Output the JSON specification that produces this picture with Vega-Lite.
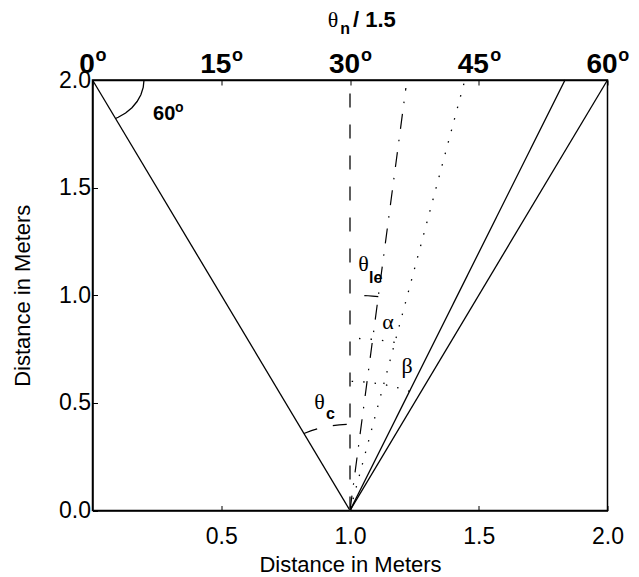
{
  "$schema": "https://vega.github.io/schema/vega-lite/v6.json",
  "width": 515,
  "height": 430.5,
  "autosize": {"type": "none"},
  "padding": {"left": 92.5, "top": 80, "right": 31.5, "bottom": 66.5},
  "background": "white",
  "config": {
    "view": {"stroke": "black", "strokeWidth": 1.5},
    "axis": {
      "domainColor": "black", "domainWidth": 1.5,
      "tickColor": "black", "tickWidth": 1, "tickSize": -5,
      "grid": false,
      "labelFont": "Liberation Sans", "labelColor": "black",
      "titleFont": "Liberation Sans", "titleFontWeight": "normal", "titleColor": "black",
      "labelOverlap": false, "labelFlush": false
    }
  },
  "datasets": {
    "shapes": [
      {"s": "L1", "i": 0, "x": 0, "y": 2}, {"s": "L1", "i": 1, "x": 1, "y": 0},
      {"s": "L2", "i": 0, "x": 1, "y": 0}, {"s": "L2", "i": 1, "x": 2, "y": 2},
      {"s": "L3", "i": 0, "x": 1, "y": 0}, {"s": "L3", "i": 1, "x": 1.835, "y": 2},
      {"s": "V", "i": 0, "x": 1, "y": 0}, {"s": "V", "i": 1, "x": 1, "y": 2},
      {"s": "DD", "i": 0, "x": 1, "y": 0}, {"s": "DD", "i": 1, "x": 1.217, "y": 1.963},
      {"s": "DOT", "i": 0, "x": 1, "y": 0}, {"s": "DOT", "i": 1, "x": 1.445, "y": 1.995},
      {"s": "A60", "i": 0, "x": 0.2, "y": 2.0},
      {"s": "A60", "i": 1, "x": 0.19696, "y": 1.96527},
      {"s": "A60", "i": 2, "x": 0.18794, "y": 1.9316},
      {"s": "A60", "i": 3, "x": 0.17321, "y": 1.9},
      {"s": "A60", "i": 4, "x": 0.15321, "y": 1.87144},
      {"s": "A60", "i": 5, "x": 0.12856, "y": 1.84679},
      {"s": "A60", "i": 6, "x": 0.1, "y": 1.82679},
      {"s": "A60", "i": 7, "x": 0.08944, "y": 1.82111},
      {"s": "AC", "i": 0, "x": 0.82111, "y": 0.35777},
      {"s": "AC", "i": 1, "x": 0.85016, "y": 0.37088},
      {"s": "AC", "i": 2, "x": 0.87639, "y": 0.38042},
      {"s": "AC", "i": 3, "x": 0.90323, "y": 0.38812},
      {"s": "AC", "i": 4, "x": 0.93054, "y": 0.39392},
      {"s": "AC", "i": 5, "x": 0.95819, "y": 0.39781},
      {"s": "AC", "i": 6, "x": 0.98604, "y": 0.39976},
      {"s": "AC", "i": 7, "x": 1.0, "y": 0.4},
      {"s": "ALE", "i": 0, "x": 1.1099, "y": 0.9939},
      {"s": "ALE", "i": 1, "x": 1.0872, "y": 0.9962},
      {"s": "ALE", "i": 2, "x": 1.0698, "y": 0.9976},
      {"s": "ALE", "i": 3, "x": 1.0523, "y": 0.9986},
      {"s": "ALE", "i": 4, "x": 1.0349, "y": 0.9994},
      {"s": "ALE", "i": 5, "x": 1.0175, "y": 0.9998},
      {"s": "ALE", "i": 6, "x": 1.0, "y": 1.0},
      {"s": "AAL", "i": 0, "x": 1.17368, "y": 0.78088},
      {"s": "AAL", "i": 1, "x": 1.13892, "y": 0.78785},
      {"s": "AAL", "i": 2, "x": 1.11134, "y": 0.79221},
      {"s": "AAL", "i": 3, "x": 1.08362, "y": 0.79562},
      {"s": "AAL", "i": 4, "x": 1.05581, "y": 0.79805},
      {"s": "AAL", "i": 5, "x": 1.02792, "y": 0.79951},
      {"s": "AAL", "i": 6, "x": 1.0, "y": 0.8},
      {"s": "ABE", "i": 0, "x": 1.23118, "y": 0.55368},
      {"s": "ABE", "i": 1, "x": 1.20521, "y": 0.56382},
      {"s": "ABE", "i": 2, "x": 1.16538, "y": 0.57676},
      {"s": "ABE", "i": 3, "x": 1.12475, "y": 0.58689},
      {"s": "ABE", "i": 4, "x": 1.0835, "y": 0.59418},
      {"s": "ABE", "i": 5, "x": 1.04185, "y": 0.59854},
      {"s": "ABE", "i": 6, "x": 1.0, "y": 0.6}
    ],
    "greek": [
      {"t": "θ", "x": 1.0524, "y": 1.1429},
      {"t": "θ", "x": 0.8816, "y": 0.5041},
      {"t": "α", "x": 1.1476, "y": 0.8757},
      {"t": "β", "x": 1.2214, "y": 0.6713},
      {"t": "θ", "x": 0.934, "y": 2.281}
    ],
    "subs": [
      {"t": "le", "x": 1.0738, "y": 1.0546},
      {"t": "c", "x": 0.9068, "y": 0.4251},
      {"t": "n", "x": 0.962, "y": 2.2137}
    ],
    "bold": [
      {"t": "/ 1.5", "x": 1.0117, "y": 2.246, "k": "title"},
      {"t": "60", "x": 0.235, "y": 1.8142, "k": "angle"}
    ],
    "sups": [
      {"t": "o", "x": 0.012, "y": 2.088, "k": "top"},
      {"t": "o", "x": 0.542, "y": 2.088, "k": "top"},
      {"t": "o", "x": 1.043, "y": 2.088, "k": "top"},
      {"t": "o", "x": 1.545, "y": 2.088, "k": "top"},
      {"t": "o", "x": 2.042, "y": 2.088, "k": "top"},
      {"t": "o", "x": 0.3204, "y": 1.8527, "k": "angle"}
    ]
  },
  "layer": [
    {
      "data": {"name": "shapes"},
      "transform": [{"filter": {"field": "s", "oneOf": ["L1", "L2", "L3", "A60"]}}],
      "mark": {"type": "line", "color": "black", "strokeWidth": 1.3},
      "encoding": {
        "x": {"field": "x", "type": "quantitative", "scale": {"domain": [0, 2], "nice": false, "zero": false},
              "axis": {"orient": "bottom", "values": [0.5, 1, 1.5, 2], "format": ".1f", "labelFontSize": 23, "labelPadding": 20,
                       "title": "Distance in Meters", "titleFontSize": 22, "titlePadding": 6}},
        "y": {"field": "y", "type": "quantitative", "scale": {"domain": [0, 2], "nice": false, "zero": false},
              "axis": {"values": [0, 0.5, 1, 1.5, 2], "format": ".1f", "labelFontSize": 23, "labelPadding": 7,
                       "title": "Distance in Meters", "titleFontSize": 22, "titlePadding": 24}},
        "detail": {"field": "s"},
        "order": {"field": "i"}
      }
    },
    {
      "data": {"name": "shapes"},
      "transform": [{"filter": {"field": "s", "equal": "V"}}],
      "mark": {"type": "line", "color": "#4d4d4d", "strokeWidth": 1.8, "strokeDash": [14, 17]},
      "encoding": {
        "x": {"field": "x", "type": "quantitative",
              "axis": {"orient": "top", "values": [0, 0.5, 1, 1.5, 2], "labelExpr": "format(datum.value*30,'d')",
                       "labelFontSize": 28, "labelFontWeight": "bold", "labelPadding": 6.5, "labelOffset": -6, "title": null}},
        "y": {"field": "y", "type": "quantitative"},
        "order": {"field": "i"}
      }
    },
    {
      "data": {"name": "shapes"},
      "transform": [{"filter": {"field": "s", "equal": "DD"}}],
      "mark": {"type": "line", "color": "black", "strokeWidth": 1.2, "strokeDash": [15, 11, 1.5, 11]},
      "encoding": {
        "x": {"field": "x", "type": "quantitative", "axis": null},
        "y": {"field": "y", "type": "quantitative"},
        "order": {"field": "i"}
      }
    },
    {
      "data": {"name": "shapes"},
      "transform": [{"filter": {"field": "s", "equal": "DOT"}}],
      "mark": {"type": "line", "color": "black", "strokeWidth": 1.3, "strokeDash": [1.5, 10.4]},
      "encoding": {
        "x": {"field": "x", "type": "quantitative", "axis": null},
        "y": {"field": "y", "type": "quantitative"},
        "order": {"field": "i"}
      }
    },
    {
      "data": {"name": "shapes"},
      "transform": [{"filter": {"field": "s", "oneOf": ["AC", "ALE"]}}],
      "mark": {"type": "line", "color": "black", "strokeWidth": 1.2, "strokeDash": [14, 16]},
      "encoding": {
        "x": {"field": "x", "type": "quantitative", "axis": null},
        "y": {"field": "y", "type": "quantitative"},
        "detail": {"field": "s"},
        "order": {"field": "i"}
      }
    },
    {
      "data": {"name": "shapes"},
      "transform": [{"filter": {"field": "s", "oneOf": ["AAL", "ABE"]}}],
      "mark": {"type": "line", "color": "black", "strokeWidth": 1.3, "strokeDash": [1.5, 10]},
      "encoding": {
        "x": {"field": "x", "type": "quantitative", "axis": null},
        "y": {"field": "y", "type": "quantitative"},
        "detail": {"field": "s"},
        "order": {"field": "i"}
      }
    },
    {
      "data": {"name": "greek"},
      "mark": {"type": "text", "font": "Liberation Serif", "fontSize": 22, "align": "center", "baseline": "middle", "color": "black"},
      "encoding": {
        "x": {"field": "x", "type": "quantitative", "axis": null},
        "y": {"field": "y", "type": "quantitative"},
        "text": {"field": "t"}
      }
    },
    {
      "data": {"name": "subs"},
      "mark": {"type": "text", "font": "Liberation Sans", "fontWeight": "bold", "fontSize": 16, "align": "left", "baseline": "alphabetic", "color": "black"},
      "encoding": {
        "x": {"field": "x", "type": "quantitative", "axis": null},
        "y": {"field": "y", "type": "quantitative"},
        "text": {"field": "t"}
      }
    },
    {
      "data": {"name": "bold"},
      "transform": [{"filter": {"field": "k", "equal": "title"}}],
      "mark": {"type": "text", "font": "Liberation Sans", "fontWeight": "bold", "fontSize": 22, "align": "left", "baseline": "alphabetic", "color": "black"},
      "encoding": {
        "x": {"field": "x", "type": "quantitative", "axis": null},
        "y": {"field": "y", "type": "quantitative"},
        "text": {"field": "t"}
      }
    },
    {
      "data": {"name": "bold"},
      "transform": [{"filter": {"field": "k", "equal": "angle"}}],
      "mark": {"type": "text", "font": "Liberation Sans", "fontWeight": "bold", "fontSize": 20, "align": "left", "baseline": "alphabetic", "color": "black"},
      "encoding": {
        "x": {"field": "x", "type": "quantitative", "axis": null},
        "y": {"field": "y", "type": "quantitative"},
        "text": {"field": "t"}
      }
    },
    {
      "data": {"name": "sups"},
      "transform": [{"filter": {"field": "k", "equal": "top"}}],
      "mark": {"type": "text", "font": "Liberation Sans", "fontWeight": "bold", "fontSize": 18, "align": "left", "baseline": "alphabetic", "color": "black"},
      "encoding": {
        "x": {"field": "x", "type": "quantitative", "axis": null},
        "y": {"field": "y", "type": "quantitative"},
        "text": {"field": "t"}
      }
    },
    {
      "data": {"name": "sups"},
      "transform": [{"filter": {"field": "k", "equal": "angle"}}],
      "mark": {"type": "text", "font": "Liberation Sans", "fontWeight": "bold", "fontSize": 14, "align": "left", "baseline": "alphabetic", "color": "black"},
      "encoding": {
        "x": {"field": "x", "type": "quantitative", "axis": null},
        "y": {"field": "y", "type": "quantitative"},
        "text": {"field": "t"}
      }
    }
  ],
  "resolve": {"axis": {"x": "independent"}}
}
